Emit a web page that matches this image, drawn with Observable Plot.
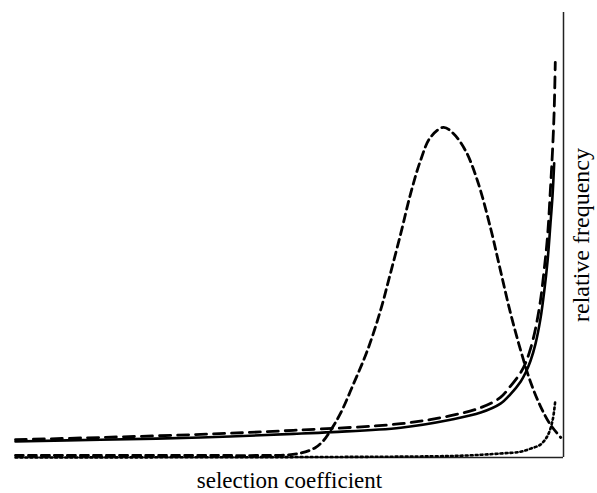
<!DOCTYPE html>
<html>
<head>
<meta charset="utf-8">
<script src="https://cdn.jsdelivr.net/npm/d3@7"></script>
<script src="https://cdn.jsdelivr.net/npm/@observablehq/plot@0.6"></script>
<style>
  html, body { margin: 0; padding: 0; background: #fff; }
  svg text { font-family: "Liberation Serif", "Times New Roman", Times, Tinos, "DejaVu Serif", "Noto Serif", FreeSerif, serif !important; }
</style>
</head>
<body>
<div id="chart"></div>
<script>
// Solid curve
const solidX = [0, 0.155, 0.338, 0.507, 0.578, 0.703, 0.794, 0.849, 0.885, 0.903, 0.922, 0.931, 0.940, 0.949, 0.958, 0.965, 0.971, 0.976, 0.980, 0.983];
const solidY = [0.036, 0.040, 0.045, 0.053, 0.057, 0.067, 0.085, 0.101, 0.121, 0.142, 0.171, 0.191, 0.218, 0.256, 0.312, 0.375, 0.443, 0.522, 0.589, 0.661];

// Long-dashed curve
const dashX = [0, 0.155, 0.338, 0.507, 0.703, 0.794, 0.849, 0.885, 0.903, 0.922, 0.931, 0.940, 0.949, 0.958, 0.965, 0.971, 0.976, 0.980, 0.983, 0.985];
const dashY = [0.040, 0.045, 0.052, 0.061, 0.076, 0.094, 0.112, 0.135, 0.160, 0.191, 0.213, 0.245, 0.290, 0.353, 0.425, 0.499, 0.600, 0.690, 0.780, 0.888];

// Bell-shaped dashed curve
const bellX = [0, 0.338, 0.447, 0.484, 0.520, 0.547, 0.562, 0.575, 0.593, 0.617, 0.642, 0.666, 0.684, 0.703, 0.721, 0.739, 0.757, 0.781, 0.799, 0.821, 0.843, 0.867, 0.885, 0.903, 0.922, 0.940, 0.958, 0.976, 0.995];
const bellY = [0.0045, 0.0045, 0.0045, 0.0050, 0.0097, 0.022, 0.038, 0.061, 0.099, 0.166, 0.240, 0.330, 0.413, 0.503, 0.593, 0.667, 0.719, 0.742, 0.728, 0.690, 0.622, 0.515, 0.420, 0.326, 0.240, 0.169, 0.115, 0.074, 0.045];

// Dotted curve
const dotX = [0, 0.520, 0.703, 0.812, 0.885, 0.922, 0.940, 0.958, 0.971, 0.980, 0.985];
const dotY = [0.0, 0.001, 0.002, 0.004, 0.009, 0.013, 0.020, 0.029, 0.049, 0.083, 0.128];

const xLabel = "selection coefficient";
const yLabel = "relative frequency";

const toRows = (xs, ys) => xs.map((x, i) => ({x, y: ys[i]}));
const solid = toRows(solidX, solidY);
const dashed = toRows(dashX, dashY);
const bell = toRows(bellX, bellY);
const dotted = toRows(dotX, dotY);

const font = "Liberation Serif, Times New Roman, DejaVu Serif, serif";

const chart = Plot.plot({
  width: 597,
  height: 493,
  marginTop: 12,
  marginBottom: 36,
  marginLeft: 15,
  marginRight: 34,
  style: {background: "#fff"},
  x: {domain: [0, 1], axis: null},
  y: {domain: [0, 1], axis: null},
  marks: [
    Plot.ruleY([0], {stroke: "#222", strokeWidth: 1.5}),
    Plot.ruleX([1], {stroke: "#222", strokeWidth: 1.5}),
    Plot.line(dotted, {x: "x", y: "y", stroke: "#000", strokeWidth: 2.6, strokeDasharray: "2,3", curve: "catmull-rom"}),
    Plot.line(bell, {x: "x", y: "y", stroke: "#000", strokeWidth: 2.8, strokeDasharray: "8,5", curve: "catmull-rom"}),
    Plot.line(solid, {x: "x", y: "y", stroke: "#000", strokeWidth: 2.6, curve: "catmull-rom"}),
    Plot.line(dashed, {x: "x", y: "y", stroke: "#000", strokeWidth: 2.8, strokeDasharray: "11,7", curve: "catmull-rom"}),
    Plot.text([xLabel], {frameAnchor: "bottom", dy: 23, fontSize: 23, fontFamily: font, fill: "#000", textAnchor: "middle", lineAnchor: "middle"}),
    Plot.text([yLabel], {frameAnchor: "right", dx: 18, rotate: -90, fontSize: 24, fontFamily: font, fill: "#000", textAnchor: "middle", lineAnchor: "middle"})
  ]
});
document.getElementById("chart").appendChild(chart);
</script>
</body>
</html>
